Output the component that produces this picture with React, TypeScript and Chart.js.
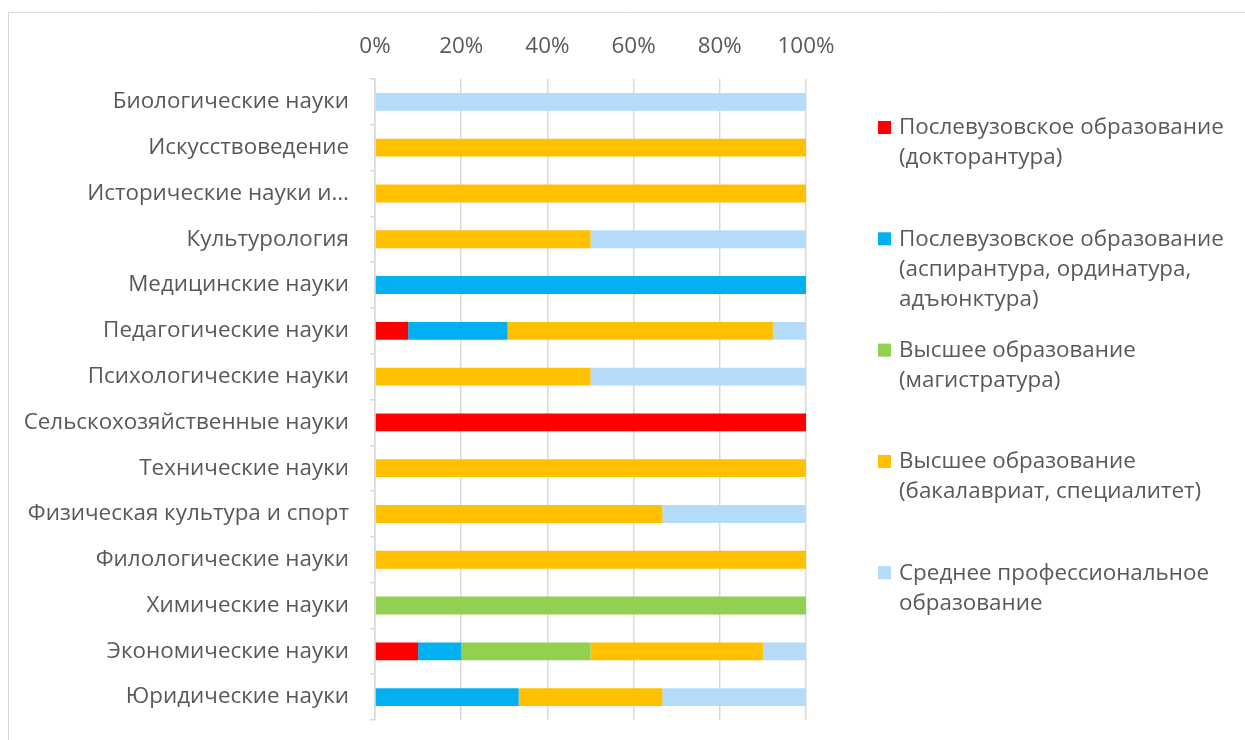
import React, { useEffect, useRef } from "react";
import { Chart, registerables } from "chart.js";

Chart.register(...registerables);

const categories = [
  "Биологические науки",
  "Искусствоведение",
  "Исторические науки и…",
  "Культурология",
  "Медицинские науки",
  "Педагогические науки",
  "Психологические науки",
  "Сельскохозяйственные науки",
  "Технические науки",
  "Физическая культура и спорт",
  "Филологические науки",
  "Химические науки",
  "Экономические науки",
  "Юридические науки",
];

const doctorate = [0, 0, 0, 0, 0, 7.69, 0, 100, 0, 0, 0, 0, 10, 0];
const postgraduate = [0, 0, 0, 0, 100, 23.08, 0, 0, 0, 0, 0, 0, 10, 33.33];
const masters = [0, 0, 0, 0, 0, 0, 0, 0, 0, 0, 0, 100, 30, 0];
const bachelors = [0, 100, 100, 50, 0, 61.54, 50, 0, 100, 66.67, 100, 0, 40, 33.33];
const vocational = [100, 0, 0, 50, 0, 7.69, 50, 0, 0, 33.33, 0, 0, 10, 33.34];

const seriesLabels = [
  ["Послевузовское образование", "(докторантура)"],
  ["Послевузовское образование", "(аспирантура, ординатура,", "адъюнктура)"],
  ["Высшее образование", "(магистратура)"],
  ["Высшее образование", "(бакалавриат, специалитет)"],
  ["Среднее профессиональное", "образование"],
];
const seriesColors = ["#FF0000", "#00B0F0", "#92D050", "#FFC000", "#B4DBFA"];
const seriesValues = [doctorate, postgraduate, masters, bachelors, vocational];

const xTicks = [0, 20, 40, 60, 80, 100];

const FONT = "'Open Sans', 'Noto Sans', sans-serif";
const FSIZE = 22.4;
const TEXT = "#595959";

const framePlugin = {
  id: "frame",
  beforeDraw(chart: any) {
    const ctx = chart.ctx;
    ctx.save();
    ctx.strokeStyle = "#d9d9d9";
    ctx.lineWidth = 1;
    ctx.beginPath();
    ctx.moveTo(8.5, 800);
    ctx.lineTo(8.5, 12.5);
    ctx.lineTo(1300, 12.5);
    ctx.stroke();
    ctx.restore();
  },
};

const legendPlugin = {
  id: "customLegend",
  afterDraw(chart: any) {
    const ctx = chart.ctx;
    ctx.save();
    ctx.font = `${FSIZE}px ${FONT}`;
    ctx.textBaseline = "middle";
    ctx.textAlign = "left";
    chart.data.datasets.forEach((ds: any, i: number) => {
      const y0 = 128 + i * 111.3;
      ctx.fillStyle = ds.backgroundColor;
      ctx.fillRect(878, y0 - 7, 13, 13);
      ctx.fillStyle = TEXT;
      (ds.legendLines as string[]).forEach((line, j) => {
        ctx.fillText(line, 899, y0 + j * 30);
      });
    });
    ctx.restore();
  },
};

export default function App() {
  const ref = useRef<HTMLCanvasElement>(null);
  useEffect(() => {
    if (!ref.current) return;
    const chart = new Chart(ref.current, {
      type: "bar",
      data: {
        labels: categories,
        datasets: seriesValues.map((vals, i) => ({
          label: seriesLabels[i].join(" "),
          legendLines: seriesLabels[i],
          data: vals,
          backgroundColor: seriesColors[i],
          borderWidth: 0,
          categoryPercentage: 1,
          barPercentage: 0.39,
        })) as any,
      },
      options: {
        indexAxis: "y",
        responsive: false,
        animation: false,
        maintainAspectRatio: false,
        layout: { padding: { left: 0, top: 0, right: 439, bottom: 20 } },
        plugins: {
          legend: { display: false },
          tooltip: { enabled: false },
        },
        scales: {
          x: {
            type: "linear",
            position: "top",
            stacked: true,
            min: 0,
            max: 100,
            afterBuildTicks(scale: any) {
              scale.ticks = xTicks.map((v) => ({ value: v }));
            },
            afterFit(scale: any) {
              scale.height = 79;
              scale.paddingLeft = 0;
              scale.paddingRight = 0;
            },
            ticks: {
              color: TEXT,
              font: { family: FONT, size: FSIZE },
              padding: 19,
              callback: (v: any) => `${v}%`,
            },
            grid: {
              color: "#d9d9d9",
              lineWidth: 1.5,
              drawTicks: false,
            },
            border: { display: false },
          },
          y: {
            stacked: true,
            afterFit(scale: any) {
              scale.width = 375;
              scale.paddingTop = 0;
              scale.paddingBottom = 0;
            },
            ticks: {
              color: TEXT,
              font: { family: FONT, size: FSIZE },
              padding: 21,
              autoSkip: false,
            },
            grid: {
              offset: true,
              drawOnChartArea: false,
              color: "#d9d9d9",
              lineWidth: 1.5,
              tickLength: 5,
            },
            border: { display: true, color: "#d9d9d9", width: 1.5 },
          },
        },
      } as any,
      plugins: [framePlugin, legendPlugin],
    });
    return () => chart.destroy();
  }, []);
  return (
    <canvas
      ref={ref}
      width={1245}
      height={740}
      style={{ position: "fixed", left: 0, top: 0, width: 1245, height: 740 }}
    />
  );
}
